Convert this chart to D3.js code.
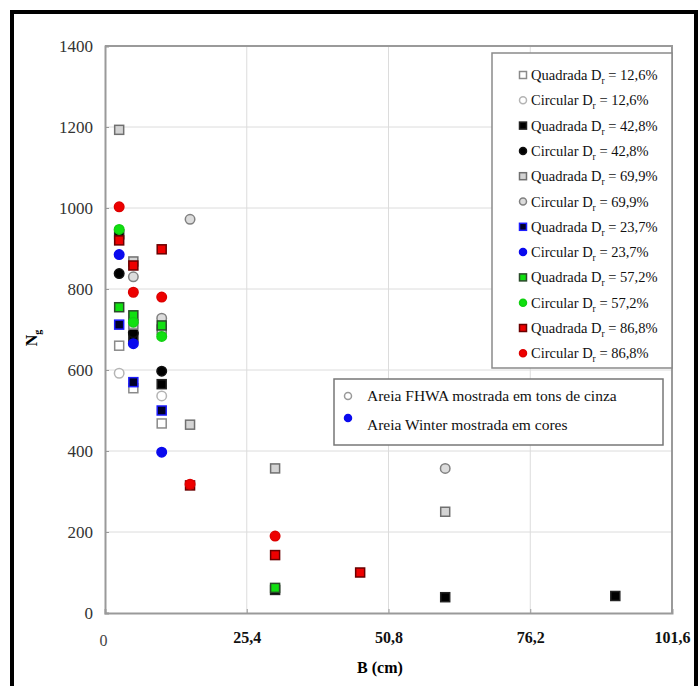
<!DOCTYPE html>
<html>
<head>
<meta charset="utf-8">
<script src="https://cdn.jsdelivr.net/npm/d3@7/dist/d3.min.js"></script>
<style>
  body { margin: 0; background: #fff; }
  text { font-family: "Liberation Serif", "Times New Roman", serif; }
</style>
</head>
<body>
<div id="chart"></div>
<script>
// tick values
const xTicks = [0, 25.4, 50.8, 76.2, 101.6];
const xTickLabels = ["0", "25,4", "50,8", "76,2", "101,6"];
const yTicks = [0, 200, 400, 600, 800, 1000, 1200, 1400];

// legend labels (D_r values)
const seriesNames = [
  ["Quadrada", "12,6%"], ["Circular", "12,6%"],
  ["Quadrada", "42,8%"], ["Circular", "42,8%"],
  ["Quadrada", "69,9%"], ["Circular", "69,9%"],
  ["Quadrada", "23,7%"], ["Circular", "23,7%"],
  ["Quadrada", "57,2%"], ["Circular", "57,2%"],
  ["Quadrada", "86,8%"], ["Circular", "86,8%"]
];

// [B (cm), Ng]
const quadrada126 = [[2.54, 660], [5.08, 555], [10.16, 468]];
const circular126 = [[2.54, 592], [10.16, 536]];
const quadrada428 = [[2.54, 935], [5.08, 680], [10.16, 565], [30.48, 57], [60.96, 39], [91.44, 42]];
const circular428 = [[2.54, 838], [5.08, 692], [10.16, 597]];
const quadrada699 = [[2.54, 1193], [5.08, 868], [5.08, 712], [10.16, 700], [15.24, 465], [30.48, 357], [60.96, 250]];
const circular699 = [[5.08, 830], [10.16, 728], [15.24, 972], [60.96, 357]];
const quadrada237 = [[2.54, 712], [5.08, 570], [10.16, 500]];
const circular237 = [[2.54, 885], [5.08, 665], [10.16, 397]];
const quadrada572 = [[2.54, 755], [5.08, 735], [10.16, 710], [30.48, 62]];
const circular572 = [[2.54, 947], [5.08, 718], [10.16, 683]];
const quadrada868 = [[2.54, 920], [5.08, 858], [10.16, 898], [15.24, 315], [30.48, 143], [45.72, 100]];
const circular868 = [[2.54, 1003], [5.08, 792], [10.16, 780], [15.24, 318], [30.48, 190]];

const seriesData = [quadrada126, circular126, quadrada428, circular428, quadrada699, circular699,
                    quadrada237, circular237, quadrada572, circular572, quadrada868, circular868];

// marker looks, one per series
const markerStyle = [
  {shape: "square", fill: "#fff", stroke: "#8a8a8a"},
  {shape: "circle", fill: "#fff", stroke: "#b4b4b4"},
  {shape: "square", fill: "#000", stroke: "#222"},
  {shape: "circle", fill: "#000", stroke: "#111"},
  {shape: "square", fill: "#d4d4d4", stroke: "#707070"},
  {shape: "circle", fill: "#dcdcdc", stroke: "#808080"},
  {shape: "square", fill: "#000028", stroke: "#1c1cff"},
  {shape: "circle", fill: "#0a0aee", stroke: "#0a0aee"},
  {shape: "square", fill: "#10e010", stroke: "#2a4a2a"},
  {shape: "circle", fill: "#10e010", stroke: "#10d010"},
  {shape: "square", fill: "#ee0000", stroke: "#6a0000"},
  {shape: "circle", fill: "#ee0000", stroke: "#dd0000"}
];

const W = 699, H = 686;
const plot = {left: 105, right: 672, top: 46, bottom: 613};

const svg = d3.select("#chart").append("svg")
  .attr("width", W)
  .attr("height", H);

// outer frame
svg.append("rect")
  .attr("x", 12).attr("y", 12)
  .attr("width", 684).attr("height", 700)
  .attr("fill", "none")
  .attr("stroke", "#000")
  .attr("stroke-width", 4);

const x = d3.scaleLinear().domain([0, 101.6]).range([plot.left, plot.right]);
const y = d3.scaleLinear().domain([0, 1400]).range([plot.bottom, plot.top]);

// grid
svg.append("g").selectAll("line.hg")
  .data(yTicks.slice(1, -1))
  .enter().append("line")
  .attr("x1", plot.left).attr("x2", plot.right)
  .attr("y1", d => y(d)).attr("y2", d => y(d))
  .attr("stroke", "#dcdcdc").attr("stroke-width", 1);

svg.append("g").selectAll("line.vg")
  .data(xTicks.slice(1, -1))
  .enter().append("line")
  .attr("x1", d => x(d)).attr("x2", d => x(d))
  .attr("y1", plot.top).attr("y2", plot.bottom)
  .attr("stroke", "#dcdcdc").attr("stroke-width", 1);

// plot box (top and right)
svg.append("path")
  .attr("d", `M${plot.left},${plot.top}H${plot.right}V${plot.bottom}`)
  .attr("fill", "none")
  .attr("stroke", "#9a9a9a")
  .attr("stroke-width", 2);

// y axis
const yAxis = svg.append("g")
  .attr("transform", `translate(${plot.left},0)`)
  .call(d3.axisLeft(y).tickValues(yTicks).tickSize(-4).tickPadding(12).tickFormat(d3.format("d")));
yAxis.select(".domain").attr("stroke", "#9a9a9a").attr("stroke-width", 2);
yAxis.selectAll(".tick line").attr("stroke", "#9a9a9a");
yAxis.selectAll(".tick text")
  .attr("font-family", "Liberation Serif, serif")
  .attr("font-size", 17)
  .attr("fill", "#333");

// x axis
const xAxis = svg.append("g")
  .attr("transform", `translate(0,${plot.bottom})`)
  .call(d3.axisBottom(x).tickValues(xTicks).tickSize(-4).tickPadding(16)
    .tickFormat((d, i) => xTickLabels[i]));
xAxis.select(".domain").attr("stroke", "#9a9a9a").attr("stroke-width", 2);
xAxis.selectAll(".tick line").attr("stroke", "#9a9a9a");
xAxis.selectAll(".tick text")
  .attr("font-family", "Liberation Serif, serif")
  .attr("font-size", 16)
  .attr("font-weight", (d, i) => i === 0 ? "normal" : "bold")
  .attr("fill", (d, i) => i === 0 ? "#444" : "#111")
  .attr("dy", (d, i) => i === 0 ? "1.05em" : "0.85em")
  .attr("dx", (d, i) => i === 0 ? -2 : 0);

// axis titles
svg.append("text")
  .attr("x", 380).attr("y", 673)
  .attr("text-anchor", "middle")
  .attr("font-size", 16)
  .attr("font-weight", "bold")
  .text("B (cm)");

const yl = svg.append("text")
  .attr("transform", "translate(37,338) rotate(-90)")
  .attr("text-anchor", "middle")
  .attr("font-size", 16)
  .attr("font-weight", "bold");
yl.append("tspan").text("N");
yl.append("tspan").attr("dy", 4).attr("font-size", 10).text("g");

function marker(sel, st, cx, cy, size) {
  if (st.shape === "square") {
    sel.append("rect")
      .attr("x", cx - size / 2).attr("y", cy - size / 2)
      .attr("width", size).attr("height", size)
      .attr("fill", st.fill).attr("stroke", st.stroke).attr("stroke-width", 1.5);
  } else {
    sel.append("circle")
      .attr("cx", cx).attr("cy", cy).attr("r", size / 2)
      .attr("fill", st.fill).attr("stroke", st.stroke).attr("stroke-width", 1.5);
  }
}

// points
const pts = svg.append("g");
seriesData.forEach((data, i) => {
  const g = pts.append("g");
  data.forEach(d => marker(g, markerStyle[i], x(d[0]), y(d[1]), markerStyle[i].shape === "square" ? 9 : 9.5));
});

// legend 1
const lg = svg.append("g");
lg.append("rect")
  .attr("x", 492).attr("y", 53)
  .attr("width", 180).attr("height", 315)
  .attr("fill", "#fff")
  .attr("stroke", "#8a8a8a")
  .attr("stroke-width", 1.5);

seriesNames.forEach((n, i) => {
  const cy = 75 + i * 25.3;
  marker(lg, markerStyle[i], 523, cy, 7);
  const t = lg.append("text")
    .attr("x", 531).attr("y", cy + 5)
    .attr("font-size", 14.5)
    .attr("fill", "#111");
  t.append("tspan").text(n[0] + " D");
  t.append("tspan").attr("dy", 4).attr("font-size", 9.5).text("r");
  t.append("tspan").attr("dy", -4).text(" = " + n[1]);
});

// legend 2
const lg2 = svg.append("g");
lg2.append("rect")
  .attr("x", 334).attr("y", 379)
  .attr("width", 329).attr("height", 66)
  .attr("fill", "#fff")
  .attr("stroke", "#777")
  .attr("stroke-width", 1.5);
marker(lg2, {shape: "circle", fill: "#fff", stroke: "#999"}, 348, 396, 7);
marker(lg2, {shape: "circle", fill: "#0a0aee", stroke: "#0a0aee"}, 348, 418, 7);
lg2.append("text").attr("x", 367).attr("y", 401)
  .attr("font-size", 15.5).attr("fill", "#111")
  .text("Areia FHWA mostrada em tons de cinza");
lg2.append("text").attr("x", 367).attr("y", 430)
  .attr("font-size", 15.5).attr("fill", "#111")
  .text("Areia Winter mostrada em cores");
</script>
</body>
</html>
